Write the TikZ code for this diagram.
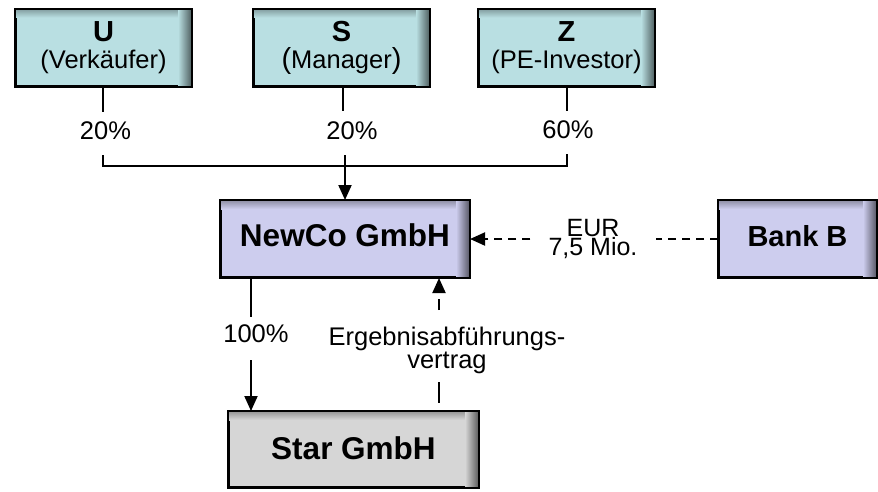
\documentclass[tikz,border=0pt]{standalone}
\usepackage{fontspec}
\setmainfont{Liberation Sans}
\usetikzlibrary{arrows.meta}
\definecolor{topfill}{HTML}{B9DFE2}
\definecolor{midfill}{HTML}{CDCDEE}
\definecolor{grayfill}{HTML}{D6D6D6}
\tikzset{
  box/.style={draw=black, line width=2pt, fill=#1, inner sep=0pt, align=center},
  topbox/.style={box=topfill, minimum width=175pt, minimum height=76pt,
    font=\fontsize{25.5}{27}\selectfont},
  bigtext/.style={font=\bfseries\fontsize{31.5}{34}\selectfont},
  lbl/.style={inner sep=0pt, font=\fontsize{25.5}{17}\selectfont, align=center},
  arr/.style={-{Triangle[length=15pt,width=13pt]}},
  dsh/.style={line width=2pt, dash pattern=on 8pt off 6pt},
}
\newcommand\boxfx[2]{%
  \shade[top color=black!28!#2, bottom color=#2]
    ([xshift=1pt,yshift=-1pt]#1.north west) rectangle ([xshift=-1pt,yshift=-9pt]#1.north east);
  \shade[left color=#2, right color=black!55!#2]
    ([xshift=-14pt,yshift=-1pt]#1.north east) rectangle ([xshift=-1pt,yshift=1pt]#1.south east);
  \draw[line width=2pt] (#1.north west) rectangle (#1.south east);
}
\begin{document}
\begin{tikzpicture}[x=1pt,y=1pt]
\useasboundingbox (0,0) rectangle (878,-491);
% top boxes
\node[topbox] (U) at (103.5,-47.5) {{\bfseries\fontsize{29}{27}\selectfont U}\\(Verkäufer)};
\node[topbox] (S) at (341.5,-47.5) {{\bfseries\fontsize{29}{27}\selectfont S}\\{\fontsize{29}{27}\selectfont(}Manager{\fontsize{29}{27}\selectfont)}};
\node[topbox] (Z) at (566.5,-47.5) {{\bfseries\fontsize{29}{27}\selectfont Z}\\(PE-Investor)};
% middle boxes
\node[box=midfill, minimum width=248pt, minimum height=76pt, bigtext, text depth=8pt] (NewCo) at (345,-239) {NewCo GmbH};
\node[box=midfill, minimum width=157pt, minimum height=76pt, font=\bfseries\fontsize{29}{30}\selectfont, text depth=7pt] (Bank) at (797.5,-239) {Bank B};
\node[box=grayfill, minimum width=249pt, minimum height=75pt, bigtext, text depth=3pt] (Star) at (353.5,-449.5) {Star GmbH};
\boxfx{U}{topfill}
\boxfx{S}{topfill}
\boxfx{Z}{topfill}
\boxfx{NewCo}{midfill}
\boxfx{Bank}{midfill}
\boxfx{Star}{grayfill}
% share labels
\node[lbl] (pU) at (105.5,-131) {20\%};
\node[lbl] (pS) at (352,-131) {20\%};
\node[lbl] (pZ) at (568,-129.5) {60\%};
\node[lbl] (p100) at (256,-334) {100\%};
% coordinates
\coordinate (ua) at (103,-112);
\coordinate (ub) at (103,-155);
\coordinate (sa) at (343,-111);
\coordinate (sb) at (345,-155);
\coordinate (za) at (567,-111);
\coordinate (zb) at (567,-154);
\coordinate (hm) at (345,-166);
\coordinate (hz) at (567,-166);
\coordinate (na) at (251,-317);
\coordinate (nb) at (251,-360);
\coordinate (ea) at (439,-310);
\coordinate (eb) at (439,-382);
% ownership lines
\draw[line width=2.6pt] (U.south -| ua) -- (ua);
\draw[line width=2.4pt] (ub) |- (hm);
\draw[line width=1.8pt] (hm) -- (hz) -- (zb);
\draw[line width=1.5pt] (S.south -| sa) -- (sa);
\draw[line width=1.5pt] (Z.south -| za) -- (za);
\draw[line width=2pt, arr] (sb) -- (NewCo.north -| sb);
\draw[line width=2.4pt] (NewCo.south -| na) -- (na);
\draw[line width=2pt, arr] (nb) -- (Star.north -| nb);
% loan
\node[lbl, font=\fontsize{25}{19.5}\selectfont, inner xsep=18pt] (eur) at (593,-239) {EUR\\7,5 Mio.};
\draw[dsh] (Bank.west) -- (eur.east);
\draw[dsh, arr] (eur.west) -- (NewCo.east);
% profit transfer agreement
\node[lbl, font=\fontsize{25.5}{19}\selectfont] (erg) at (447,-350.7) {Ergebnisabführungs-\\vertrag};
\draw[line width=2pt, dash pattern=on 11pt off 30pt, arr] (ea) -- (NewCo.south -| ea);
\draw[line width=2pt, dash pattern=on 21pt off 30pt] (eb) -- (Star.north -| eb);
\end{tikzpicture}
\end{document}
